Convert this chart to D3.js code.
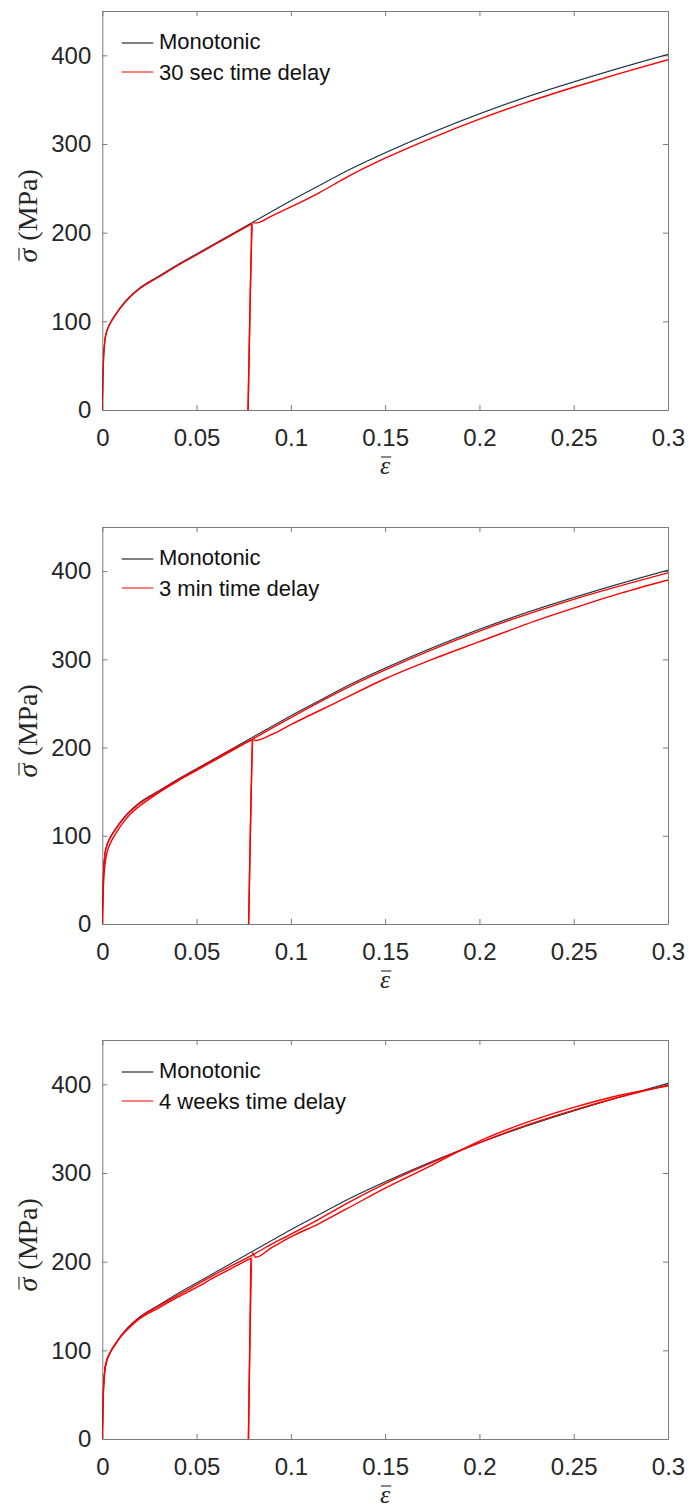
<!DOCTYPE html>
<html><head><meta charset="utf-8">
<script src="https://cdn.jsdelivr.net/npm/d3@7"></script>
<style>body{margin:0;background:#fff}svg{display:block}</style></head>
<body><svg id="c" width="689" height="1508"></svg>
<script>
// ---------- tick labels ----------
const xTickValues = [0, 0.05, 0.1, 0.15, 0.2, 0.25, 0.3];
const xTickLabels = ["0", "0.05", "0.1", "0.15", "0.2", "0.25", "0.3"];
const yTickValues = [0, 100, 200, 300, 400];
const yTickLabels = ["0", "100", "200", "300", "400"];
const legendMono = "Monotonic";
const legendDelay = ["30 sec time delay", "3 min time delay", "4 weeks time delay"];

// ---------- monotonic curve (all panels) ----------
const monoStrain = [0, 0.0004, 0.0008, 0.0014, 0.0022, 0.0032, 0.0046, 0.007, 0.01, 0.015, 0.02, 0.03, 0.04, 0.05, 0.06, 0.07, 0.08, 0.09, 0.1, 0.115, 0.13, 0.15, 0.175, 0.2, 0.225, 0.25, 0.275, 0.3];
const monoStress = [0, 45, 65, 80, 88, 94, 100, 108, 117, 129, 138, 151, 164, 176, 188, 200, 212, 224, 236, 253, 270, 290, 313, 334, 353, 370, 386, 401];

// ---------- panel 1 : 30 sec delay ----------
const p1LoadStrain = [0, 0.0004, 0.0008, 0.0014, 0.0022, 0.0032, 0.0046, 0.007, 0.01, 0.015, 0.02, 0.03, 0.04, 0.05, 0.06, 0.07, 0.0792];
const p1LoadStress = [0, 43, 63, 78, 87, 93, 99, 107, 116, 128, 137, 150, 163, 175, 187, 199, 210];
const p1UnloadStrain = [0.0792, 0.0773];
const p1UnloadStress = [210, 0];
const p1ReloadStrain = [0.0773, 0.0800, 0.0815, 0.09, 0.1, 0.115, 0.13, 0.15, 0.175, 0.2, 0.225, 0.25, 0.275, 0.3];
const p1ReloadStress = [0, 211, 211, 219, 229, 245, 263, 284, 307, 328, 347, 364, 380, 395];

// ---------- panel 2 : 3 min delay ----------
const p2FullStrain = [0, 0.0004, 0.0008, 0.0014, 0.0022, 0.0032, 0.0046, 0.007, 0.01, 0.015, 0.02, 0.03, 0.04, 0.05, 0.06, 0.07, 0.08, 0.1, 0.13, 0.15, 0.2, 0.25, 0.3];
const p2FullStress = [0, 32, 52, 67, 78, 86, 93, 102, 112, 125, 134, 149, 162, 174, 186, 198, 210, 234, 268, 288, 332, 368, 398];
const p2LoadStrain = [0, 0.0004, 0.0008, 0.0014, 0.0022, 0.0032, 0.0046, 0.007, 0.01, 0.015, 0.02, 0.03, 0.04, 0.05, 0.06, 0.07, 0.0795];
const p2LoadStress = [0, 43, 63, 78, 87, 93, 99, 107, 116, 128, 137, 150, 163, 175, 187, 199, 209];
const p2UnloadStrain = [0.0795, 0.0776];
const p2UnloadStress = [209, 0];
const p2ReloadStrain = [0.0776, 0.0802, 0.0815, 0.09, 0.1, 0.125, 0.15, 0.175, 0.2, 0.225, 0.25, 0.275, 0.3];
const p2ReloadStress = [0, 209, 208, 215, 226, 252, 278, 300, 320, 340, 358, 375, 390];

// ---------- panel 3 : 4 weeks delay ----------
const p3FullStrain = [0, 0.0004, 0.0008, 0.0014, 0.0022, 0.0032, 0.0046, 0.007, 0.01, 0.015, 0.02, 0.03, 0.04, 0.05, 0.06, 0.07, 0.08, 0.09, 0.1, 0.115, 0.13, 0.15, 0.175, 0.2, 0.225, 0.25, 0.275, 0.3];
const p3FullStress = [0, 43, 63, 78, 87, 93, 99, 107, 116, 128, 137, 150, 162, 174, 186, 197, 208, 220, 231, 248, 266, 288, 312, 334, 354, 371, 386, 399];
const p3LoadStrain = [0, 0.0004, 0.0008, 0.0014, 0.0022, 0.0032, 0.0046, 0.007, 0.01, 0.015, 0.02, 0.03, 0.04, 0.05, 0.06, 0.07, 0.0788];
const p3LoadStress = [0, 43, 63, 78, 87, 93, 99, 107, 116, 127, 136, 148, 160, 171, 183, 194, 204];
const p3UnloadStrain = [0.0788, 0.0775];
const p3UnloadStress = [204, 0];
const p3ReloadStrain = [0.0775, 0.0797, 0.0812, 0.09, 0.1, 0.115, 0.13, 0.15, 0.175, 0.2, 0.225, 0.25, 0.275, 0.3];
const p3ReloadStress = [0, 210, 205, 216, 228, 243, 260, 283, 309, 336, 357, 374, 388, 398];

const zip = (xs, ys) => xs.map((x, i) => [x, ys[i]]);

const panels = [
  { top: 11, bottom: 410, legend: legendDelay[0], red: [
      { pts: zip(p1LoadStrain, p1LoadStress), curve: true },
      { pts: zip(p1UnloadStrain, p1UnloadStress), curve: false },
      { pts: zip(p1ReloadStrain, p1ReloadStress), curve: true } ] },
  { top: 527, bottom: 924, legend: legendDelay[1], red: [
      { pts: zip(p2FullStrain, p2FullStress), curve: true },
      { pts: zip(p2LoadStrain, p2LoadStress), curve: true },
      { pts: zip(p2UnloadStrain, p2UnloadStress), curve: false },
      { pts: zip(p2ReloadStrain, p2ReloadStress), curve: true } ] },
  { top: 1040, bottom: 1439, legend: legendDelay[2], red: [
      { pts: zip(p3FullStrain, p3FullStress), curve: true },
      { pts: zip(p3LoadStrain, p3LoadStress), curve: true },
      { pts: zip(p3UnloadStrain, p3UnloadStress), curve: false },
      { pts: zip(p3ReloadStrain, p3ReloadStress), curve: true } ] }
];

const svg = d3.select("#c");
const left = 102.3, right = 668;
const axisCol = "#7a7a7a";
const txtCol = "#262626";
const sansFont = "'Liberation Sans', Arial, sans-serif";
const serifFont = "'Liberation Serif', 'Times New Roman', serif";

panels.forEach((p, pi) => {
  const x = d3.scaleLinear().domain([0, 0.3]).range([left, right]);
  const y = d3.scaleLinear().domain([0, 450]).range([p.bottom, p.top]);
  const g = svg.append("g");

  const clipId = "clip" + pi;
  svg.append("clipPath").attr("id", clipId).append("rect")
    .attr("x", left).attr("y", p.top).attr("width", right - left).attr("height", p.bottom - p.top);

  const fmtX = (d) => xTickLabels[xTickValues.indexOf(d)];
  const fmtY = (d) => yTickLabels[yTickValues.indexOf(d)];
  const styleAxis = (sel) => {
    sel.selectAll("path.domain").attr("stroke", axisCol).attr("stroke-width", 1);
    sel.selectAll(".tick line").attr("stroke", axisCol).attr("stroke-width", 1);
    sel.selectAll(".tick text").attr("fill", txtCol).style("font-family", sansFont).style("font-size", "24px");
  };
  g.append("g").attr("transform", `translate(0,${p.bottom})`)
    .call(d3.axisBottom(x).tickValues(xTickValues).tickFormat(fmtX).tickSizeInner(-5).tickSizeOuter(0).tickPadding(19))
    .call(styleAxis);
  g.append("g").attr("transform", `translate(0,${p.top})`)
    .call(d3.axisTop(x).tickValues(xTickValues).tickFormat("").tickSizeInner(-5).tickSizeOuter(0))
    .call(styleAxis);
  g.append("g").attr("transform", `translate(${left},0)`)
    .call(d3.axisLeft(y).tickValues(yTickValues).tickFormat(fmtY).tickSizeInner(-5).tickSizeOuter(0).tickPadding(11))
    .call(styleAxis);
  g.append("g").attr("transform", `translate(${right},0)`)
    .call(d3.axisRight(y).tickValues(yTickValues).tickFormat("").tickSizeInner(-5).tickSizeOuter(0))
    .call(styleAxis);

  const lineC = d3.line().x(d => x(d[0])).y(d => y(d[1])).curve(d3.curveMonotoneX);
  const lineL = d3.line().x(d => x(d[0])).y(d => y(d[1]));

  const plot = g.append("g").attr("clip-path", `url(#${clipId})`);
  const mono = zip(monoStrain, monoStress);
  plot.append("path").attr("d", lineC(mono)).attr("fill", "none").attr("stroke", "#000")
    .attr("stroke-width", 1);
  // overlapping monotonic specimens (coloured traces)
  plot.append("path").attr("d", lineC(mono)).attr("fill", "none").attr("stroke", "#3a4dff")
    .attr("stroke-width", 0.8).attr("opacity", 0.35).attr("transform", "translate(0,-0.6)");
  plot.append("path").attr("d", lineC(mono)).attr("fill", "none").attr("stroke", "#22b14c")
    .attr("stroke-width", 0.8).attr("opacity", 0.3).attr("transform", "translate(0.5,-0.2)");

  p.red.forEach(s => {
    plot.append("path").attr("d", s.curve ? lineC(s.pts) : lineL(s.pts))
      .attr("fill", "none").attr("stroke", "#ff0000").attr("stroke-width", 1.4)
      .attr("stroke-linejoin", "round");
  });

  // legend
  const lg = g.append("g");
  lg.append("line").attr("x1", 121.7).attr("x2", 153.3).attr("y1", p.top + 32).attr("y2", p.top + 32)
    .attr("stroke", "#000").attr("stroke-width", 1);
  lg.append("line").attr("x1", 121.7).attr("x2", 153.3).attr("y1", p.top + 61).attr("y2", p.top + 61)
    .attr("stroke", "#ff0000").attr("stroke-width", 1.2);
  lg.append("text").attr("x", 159).attr("y", p.top + 38).text(legendMono)
    .attr("fill", "#111").style("font-family", sansFont).style("font-size", "22px");
  lg.append("text").attr("x", 159).attr("y", p.top + 69).text(p.legend)
    .attr("fill", "#111").style("font-family", sansFont).style("font-size", "22px");

  // y-axis title: sigma-bar (MPa)
  const yc = (p.top + p.bottom) / 2;
  const yt = g.append("g").attr("transform", `translate(37,${yc + 52}) rotate(-90)`);
  const sig = yt.append("text").attr("x", 0).attr("y", 0).text("σ")
    .attr("fill", txtCol).style("font-family", serifFont).style("font-style", "italic").style("font-size", "28px");
  const sw = sig.node().getComputedTextLength();
  yt.append("line").attr("x1", 2).attr("x2", sw + 1).attr("y1", -18).attr("y2", -18)
    .attr("stroke", txtCol).attr("stroke-width", 1.1);
  yt.append("text").attr("x", sw + 8).attr("y", 0).text("(MPa)")
    .attr("fill", txtCol).style("font-family", serifFont).style("font-size", "28px");

  // x-axis title: epsilon-bar
  const xc = (left + right) / 2;
  const eps = g.append("text").attr("x", xc).attr("y", p.bottom + 64).attr("text-anchor", "middle").text("ε")
    .attr("fill", txtCol).style("font-family", serifFont).style("font-style", "italic").style("font-size", "26px");
  const ew = eps.node().getComputedTextLength();
  g.append("line").attr("x1", xc - ew / 2 + 1).attr("x2", xc + ew / 2 + 1)
    .attr("y1", p.bottom + 47).attr("y2", p.bottom + 47).attr("stroke", txtCol).attr("stroke-width", 1.1);
});
</script></body></html>
